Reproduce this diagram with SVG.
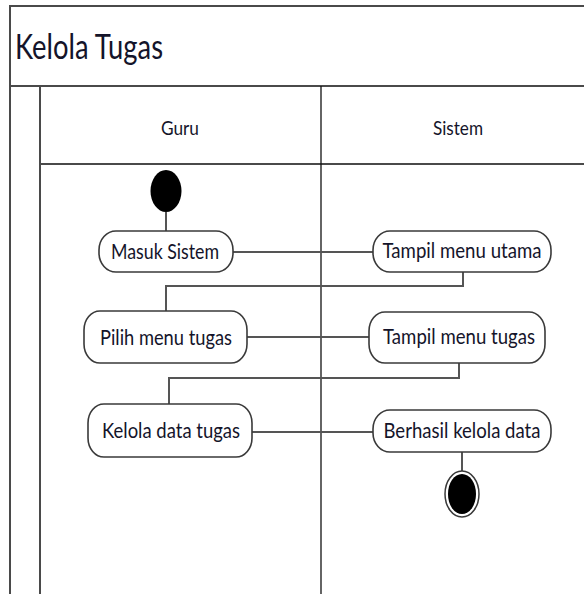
<svg xmlns="http://www.w3.org/2000/svg" width="584" height="594" viewBox="0 0 584 594">
<style>
.frame{stroke:#4a4a4a;stroke-width:2;fill:none}
.div{stroke:#111;stroke-width:1.3;fill:none}
.act{fill:#fff;stroke:#3a3a3a;stroke-width:1.6}
.con{stroke:#555;stroke-width:2;fill:none}
.t{font-family:Lato,"Open Sans","Liberation Sans",sans-serif;fill:#14142a;text-anchor:middle}
.lbl{font-size:22px}
.hdr{font-size:20px}
</style>
<rect width="584" height="594" fill="#fff"/>
<g id="frame">
<path class="frame" d="M10,594 V6 H584"/>
<path class="frame" d="M10,86 H584"/>
<path class="frame" d="M40,86 V594"/>
<path class="frame" d="M40,164 H584"/>
<path class="div" d="M321,86 V594"/>
<text class="t" x="15" y="59" font-size="34" style="text-anchor:start" textLength="148" lengthAdjust="spacingAndGlyphs">Kelola Tugas</text>
</g>
<g id="lane-guru"><text class="t hdr" x="180" y="135" textLength="38" lengthAdjust="spacingAndGlyphs">Guru</text></g>
<g id="lane-sistem"><text class="t hdr" x="458" y="135" textLength="50" lengthAdjust="spacingAndGlyphs">Sistem</text></g>
<g id="connectors">
<path class="con" d="M166,212 V231"/>
<path class="con" d="M233,252 H373"/>
<path class="con" d="M463,272 V286 H166 V311"/>
<path class="con" d="M247,337 H369"/>
<path class="con" d="M459,363 V378 H169 V404"/>
<path class="con" d="M252,432 H373"/>
<path class="con" d="M462,452 V471"/>
</g>
<g id="start"><ellipse cx="166" cy="191" rx="15.5" ry="21" fill="#000"/></g>
<g id="masuk-sistem">
<rect class="act" x="99" y="231" width="134" height="41" rx="17" ry="19"/>
<text class="t lbl" x="165" y="259" textLength="108" lengthAdjust="spacingAndGlyphs">Masuk Sistem</text>
</g>
<g id="tampil-menu-utama">
<rect class="act" x="373" y="231" width="178" height="41" rx="17" ry="19"/>
<text class="t lbl" x="462" y="258" textLength="159" lengthAdjust="spacingAndGlyphs">Tampil menu utama</text>
</g>
<g id="pilih-menu-tugas">
<rect class="act" x="84" y="311" width="163" height="52" rx="16" ry="19"/>
<text class="t lbl" x="166" y="345" textLength="132" lengthAdjust="spacingAndGlyphs">Pilih menu tugas</text>
</g>
<g id="tampil-menu-tugas">
<rect class="act" x="369" y="312" width="176" height="51" rx="16" ry="19"/>
<text class="t lbl" x="459" y="344" textLength="152" lengthAdjust="spacingAndGlyphs">Tampil menu tugas</text>
</g>
<g id="kelola-data-tugas">
<rect class="act" x="88" y="404" width="164" height="53" rx="16" ry="19"/>
<text class="t lbl" x="171" y="438" textLength="138" lengthAdjust="spacingAndGlyphs">Kelola data tugas</text>
</g>
<g id="berhasil-kelola-data">
<rect class="act" x="373" y="410" width="178" height="42" rx="17" ry="19"/>
<text class="t lbl" x="462" y="438" textLength="157" lengthAdjust="spacingAndGlyphs">Berhasil kelola data</text>
</g>
<g id="end">
<ellipse cx="462" cy="494" rx="17" ry="23" fill="#fff" stroke="#3a3a3a" stroke-width="1.5"/>
<ellipse cx="462" cy="494" rx="14" ry="20" fill="#000"/>
</g>
</svg>
